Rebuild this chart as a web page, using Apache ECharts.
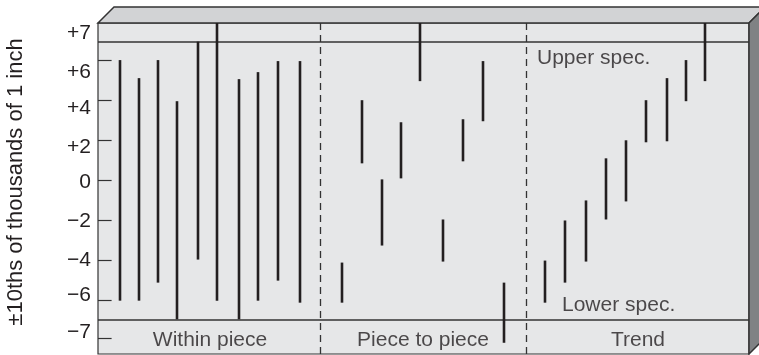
<!DOCTYPE html>
<html>
<head>
<meta charset="utf-8">
<script src="https://cdn.jsdelivr.net/npm/echarts@6.0.0/dist/echarts.min.js"></script>
<style>
  html, body { margin: 0; padding: 0; background: #ffffff; }
  #main { width: 759px; height: 355px; }
</style>
</head>
<body>
<div id="main"></div>
<script>
// 横坐标：样本位置（每格约 20px）
var withinX = [1.1, 2.05, 3.0, 3.95, 5.0, 5.95, 7.05, 8.0, 9.0, 10.1];
var withinLow = [-6, -6, -5.1, -6.93, -3.95, -6, -6.93, -6, -5, -6.1];
var withinHigh = [6, 5.1, 6, 3.95, 6.92, 7.85, 5.05, 5.4, 5.95, 5.95];

var pieceX = [12.2, 13.2, 14.2, 15.15, 16.1, 17.25, 18.25, 19.25, 20.3];
var pieceLow = [-6.1, 0.85, -3.25, 0.1, 4.95, -4.05, 0.95, 2.95, -8.1];
var pieceHigh = [-4.1, 4, 0.05, 2.9, 7.85, -1.95, 3.05, 5.95, -5.1];

var trendX = [22.35, 23.35, 24.4, 25.4, 26.4, 27.4, 28.45, 29.4, 30.35];
var trendLow = [-6.1, -5.1, -4.05, -1.95, -1.05, 1.9, 1.95, 3.95, 4.95];
var trendHigh = [-4, -2, -1, 1.1, 2, 4, 5.1, 6, 7.85];

// 规格线 / 分隔线
var specValues = [6.92, -6.93];
var dividerX = [11.1, 21.4];

// 纵轴刻度（刻度线与文字位置在原图中并不对齐，分别读取）
var tickValues = [6, 4, 2, 0, -2, -4, -6, -7.89];
var labelValues = [7.35, 5.41, 3.61, 1.67, -0.1, -2.06, -3.97, -5.72, -7.56];
var labelTexts = ['+7', '+6', '+4', '+2', '0', '\u22122', '\u22124', '\u22126', '\u22127'];

// 文字标注
var sectionNames = ['Within piece', 'Piece to piece', 'Trend'];
var sectionX = [5.6, 16.25, 27.0];
var sectionY = -7.96;
var specNames = ['Upper spec.', 'Lower spec.'];
var specLabelX = [21.95, 23.2];
var specLabelY = [6.09, -6.21];

var yMin = -8.66, yMax = 7.85, xMax = 32.55;
var tickLen = 0.68;

// 盒子外框
var box = { left: 98, top: 23, right: 749, bottom: 354, depth: 16 };
var ink = '#231f20';
var edge = '#333333';
var font = '"Liberation Sans", Arial, Helvetica, sans-serif';

function makeBars(xs, lows, highs) {
    var out = [];
    for (var i = 0; i < xs.length; i++) {
        out.push([xs[i], lows[i], highs[i]]);
    }
    return out;
}
var barData = makeBars(withinX, withinLow, withinHigh)
    .concat(makeBars(pieceX, pieceLow, pieceHigh))
    .concat(makeBars(trendX, trendLow, trendHigh));

function renderBar(params, api) {
    var p1 = api.coord([api.value(0), api.value(2)]);
    var p2 = api.coord([api.value(0), api.value(1)]);
    return {
        type: 'line',
        shape: { x1: p1[0], y1: p1[1], x2: p2[0], y2: p2[1] },
        style: { stroke: ink, lineWidth: 2.6 }
    };
}

var textData = [];
for (var i = 0; i < sectionNames.length; i++) {
    textData.push({ name: sectionNames[i], value: [sectionX[i], sectionY] });
}
var specTextData = [];
for (var j = 0; j < specNames.length; j++) {
    specTextData.push({ name: specNames[j], value: [specLabelX[j], specLabelY[j]] });
}

// 规格线、分隔虚线、刻度短线
var lineMarks = specValues.map(function (v) {
    return { yAxis: v, lineStyle: { color: edge, width: 1.6, type: 'solid' } };
}).concat(dividerX.map(function (v) {
    return { xAxis: v, lineStyle: { color: edge, width: 1.3, type: [7, 5] } };
})).concat(tickValues.map(function (v) {
    return [
        { coord: [0, v], lineStyle: { color: edge, width: 1.2, type: 'solid' } },
        { coord: [tickLen, v] }
    ];
}));

var d = box.depth;
var chart = echarts.init(document.getElementById('main'));
chart.setOption({
    animation: false,
    grid: {
        left: box.left,
        top: box.top,
        right: 759 - box.right,
        bottom: 355 - box.bottom,
        outerBoundsMode: 'none',
        containLabel: false,
        show: true,
        backgroundColor: '#e6e7e8',
        borderColor: edge,
        borderWidth: 1.2
    },
    graphic: [
        {   // 顶面
            type: 'polygon',
            shape: { points: [[box.left, box.top], [box.left + d, box.top - d], [box.right + d, box.top - d], [box.right, box.top]] },
            style: { fill: '#d2d3d5', stroke: edge, lineWidth: 1.5 }
        },
        {   // 右侧面
            type: 'polygon',
            shape: { points: [[box.right, box.top], [box.right + d, box.top - d], [box.right + d, box.bottom - d], [box.right, box.bottom]] },
            style: { fill: '#808284', stroke: edge, lineWidth: 1.5 }
        }
    ],
    xAxis: {
        type: 'value',
        min: 0,
        max: xMax,
        show: false
    },
    yAxis: {
        type: 'value',
        min: yMin,
        max: yMax,
        z: 3,
        name: '\u00b110ths of thousands of 1 inch',
        nameLocation: 'middle',
        nameGap: 71,
        nameRotate: 90,
        nameTextStyle: { fontFamily: font, fontSize: 22, color: ink, padding: [0, 0, 0, 13] },
        axisLine: { show: false },
        axisTick: { show: false },
        axisLabel: {
            customValues: labelValues,
            margin: 7,
            fontFamily: font,
            fontSize: 21,
            color: ink,
            formatter: function (v) {
                for (var k = 0; k < labelValues.length; k++) {
                    if (Math.abs(labelValues[k] - v) < 0.001) return labelTexts[k];
                }
                return '';
            }
        },
        splitLine: { show: false }
    },
    series: [
        {
            type: 'custom',
            renderItem: renderBar,
            encode: { x: 0, y: [1, 2] },
            data: barData,
            z: 5,
            markLine: {
                silent: true,
                symbol: 'none',
                label: { show: false },
                data: lineMarks
            }
        },
        {
            type: 'scatter',
            symbolSize: 0,
            silent: true,
            data: textData,
            label: {
                show: true,
                position: 'inside',
                formatter: '{b}',
                fontFamily: font,
                fontSize: 21,
                color: ink
            }
        },
        {
            type: 'scatter',
            symbolSize: 0,
            silent: true,
            data: specTextData,
            label: {
                show: true,
                position: 'right',
                distance: 0,
                formatter: '{b}',
                fontFamily: font,
                fontSize: 21,
                color: ink
            }
        }
    ]
});
</script>
</body>
</html>
